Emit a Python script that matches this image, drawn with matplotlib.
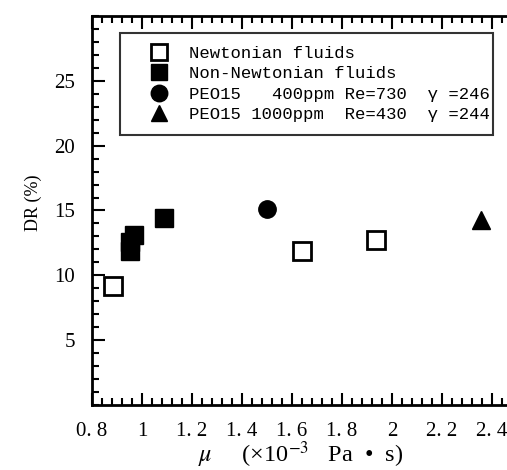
import matplotlib
matplotlib.use("Agg")
import matplotlib.pyplot as plt
from matplotlib.ticker import MultipleLocator, FixedLocator, FixedFormatter

plt.rcParams['font.family'] = ['Liberation Serif', 'DejaVu Serif']
plt.rcParams['mathtext.fontset'] = 'stix'

# Data
newt_mu = [0.885, 1.64, 1.935]
newt_dr = [9.15, 11.85, 12.7]

nonnewt_mu = [0.951, 0.952, 0.969, 1.087]
nonnewt_dr = [11.85, 12.6, 13.1, 14.45]

pe400_mu = [1.50]
pe400_dr = [15.1]

pe1000_mu = [2.356]
pe1000_dr = [14.3]

x_ticks = [0.8, 1.0, 1.2, 1.4, 1.6, 1.8, 2.0, 2.2, 2.4]
x_labels = ["0. 8", "1", "1. 2", "1. 4", "1. 6", "1. 8", "2", "2. 2", "2. 4"]
y_ticks = [5, 10, 15, 20, 25]

fig = plt.figure(figsize=(5.07, 4.70), dpi=100)
ax = fig.add_axes([92 / 507, 1 - 405 / 470, 417 / 507, 389 / 470])

ms = 12.5
ax.plot(newt_mu, newt_dr, ls='none', marker='s', ms=ms, mfc='white', mec='black', mew=2,
        label="Newtonian fluids")
ax.plot(nonnewt_mu, nonnewt_dr, ls='none', marker='s', ms=ms, mfc='black', mec='black',
        label="Non-Newtonian fluids")
ax.plot(pe400_mu, pe400_dr, ls='none', marker='o', ms=ms, mfc='black', mec='black',
        label="PEO15   400ppm Re=730  γ =246")
ax.plot(pe1000_mu, pe1000_dr, ls='none', marker='^', ms=ms, mfc='black', mec='black',
        label="PEO15 1000ppm  Re=430  γ =244")

ax.set_xlim(0.8, 2.468)
ax.set_ylim(0, 30)

ax.xaxis.set_major_locator(FixedLocator(x_ticks))
ax.xaxis.set_major_formatter(FixedFormatter(x_labels))
ax.xaxis.set_minor_locator(MultipleLocator(0.04))
ax.yaxis.set_major_locator(FixedLocator(y_ticks))
ax.yaxis.set_minor_locator(MultipleLocator(1))

ax.tick_params(which='both', direction='in', top=True, right=False, width=1.5, labelsize=15)
ax.tick_params(which='major', length=9)
ax.tick_params(which='minor', length=5)
ax.tick_params(axis='x', pad=12)
ax.tick_params(axis='y', pad=12)

for side in ['left', 'bottom', 'top']:
    ax.spines[side].set_linewidth(2)
ax.spines['right'].set_visible(False)

ax.set_xlabel(r"$\mu$     (×10$^{-3}$   Pa  •  s)", fontsize=17.5, labelpad=-1)
ax.set_ylabel("DR (%)", fontsize=13)
ax.yaxis.set_label_coords(-0.12, 0.52)

leg = ax.legend(loc='upper left', bbox_to_anchor=(0.067, 0.956, 0.895, 0.0), mode='expand',
                borderaxespad=0, prop={'family': 'Liberation Mono', 'size': 12.4},
                frameon=True, fancybox=False,
                handlelength=3.0, handletextpad=0.25, labelspacing=0.31,
                borderpad=0.75, markerscale=0.95)
leg.get_frame().set_edgecolor('black')
leg.get_frame().set_linewidth(1.5)

fig.savefig("out.png", dpi=100)
